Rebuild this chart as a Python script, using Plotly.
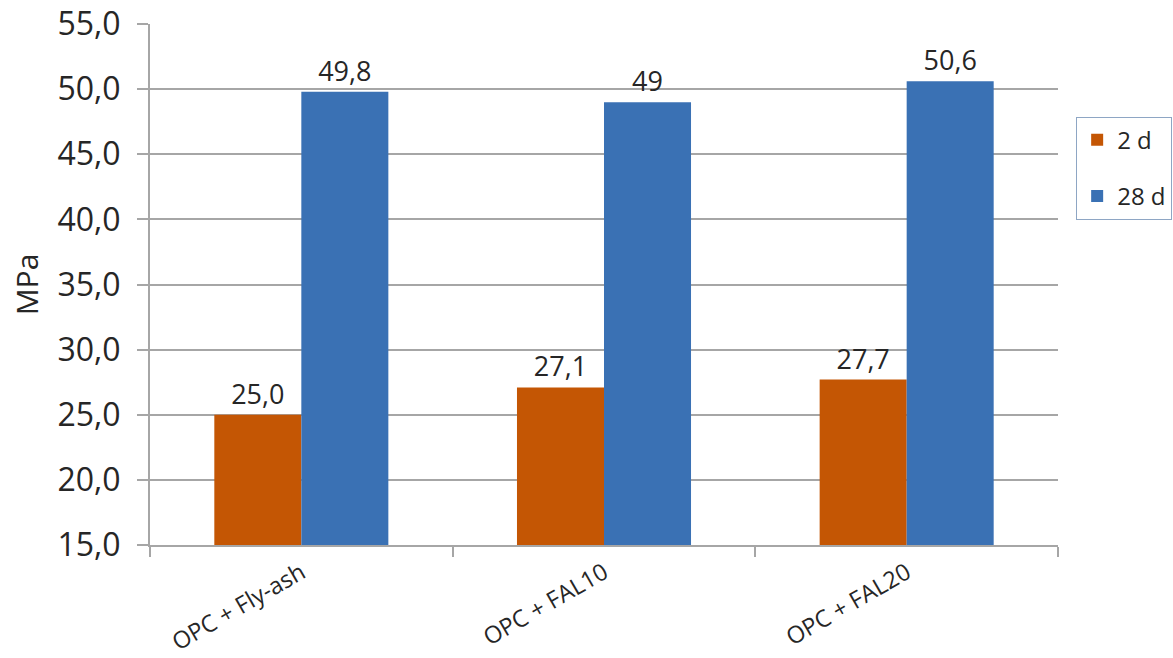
import plotly.graph_objects as go

categories = ["OPC + Fly-ash", "OPC + FAL10", "OPC + FAL20"]
series_names = ["2 d", "28 d"]
values_2d = [25.0, 27.1, 27.7]
values_28d = [49.8, 49.0, 50.6]
labels_2d = ["25,0", "27,1", "27,7"]
labels_28d = ["49,8", "49", "50,6"]
y_ticks = [15, 20, 25, 30, 35, 40, 45, 50, 55]
y_tick_labels = ["15,0", "20,0", "25,0", "30,0", "35,0", "40,0", "45,0", "50,0", "55,0"]

FONT = "Open Sans"
TXT = "#262626"
GRID = "#A6A6A6"

fig = go.Figure()
fig.add_trace(go.Bar(
    x=categories, y=values_2d, name=series_names[0], legendgroup="a",
    marker=dict(color="#C45604", line=dict(width=0)),
    text=labels_2d, textposition="outside", cliponaxis=False,
    textfont=dict(family=FONT, size=27, color=TXT),
))
fig.add_trace(go.Bar(
    x=categories, y=values_28d, name=series_names[1], legendgroup="b",
    marker=dict(color="#3A71B4", line=dict(width=0)),
    text=labels_28d, textposition="outside", cliponaxis=False,
    textfont=dict(family=FONT, size=27, color=TXT),
))

fig.update_layout(
    width=1173, height=658,
    margin=dict(l=150, r=115, t=24, b=113, autoexpand=False),
    paper_bgcolor="white", plot_bgcolor="white",
    barmode="group", bargap=0.425, bargroupgap=0,
    font=dict(family=FONT, color=TXT),
    legend=dict(
        x=1.02, y=0.822, xanchor="left", yanchor="top",
        bgcolor="white", bordercolor="#8EA6C4", borderwidth=1,
        font=dict(family=FONT, size=24, color=TXT),
        tracegroupgap=22,
    ),
    xaxis=dict(
        type="category", tickangle=-30, tickson="boundaries",
        ticks="outside", ticklen=10, tickcolor=GRID, tickwidth=2,
        showline=True, linecolor=GRID, linewidth=2,
        tickfont=dict(family=FONT, size=23.5, color=TXT),
        ticklabelstandoff=3,
        showgrid=False, automargin=False,
    ),
    yaxis=dict(
        range=[15, 55], tickvals=y_ticks, ticktext=y_tick_labels,
        ticks="outside", ticklen=11, tickcolor=GRID, tickwidth=2,
        showline=True, linecolor=GRID, linewidth=2,
        showgrid=True, gridcolor=GRID, gridwidth=2,
        tickfont=dict(family=FONT, size=32, color=TXT),
        ticklabelstandoff=10,
        title=dict(text="MPa", font=dict(family=FONT, size=30, color=TXT), standoff=10),
        zeroline=False, automargin=False,
    ),
)

fig.write_html("out.html")
